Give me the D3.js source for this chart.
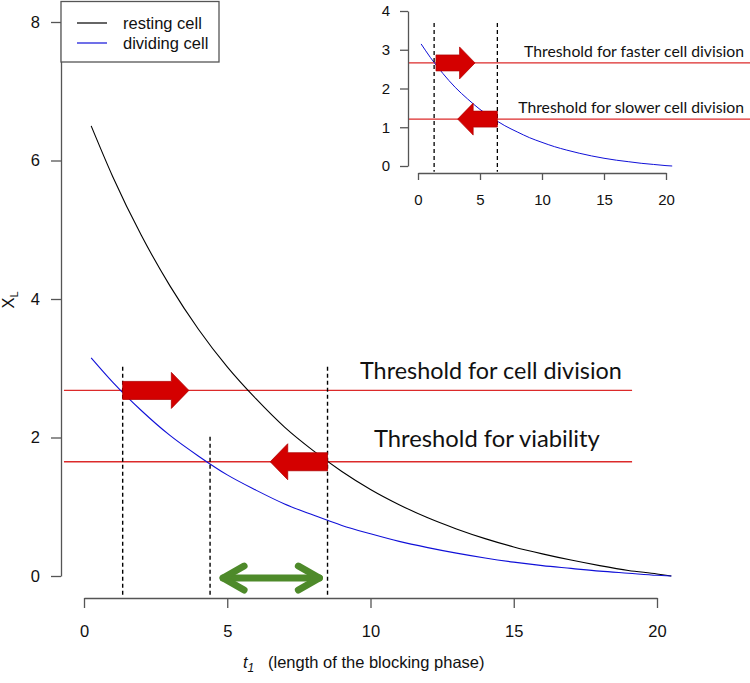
<!DOCTYPE html>
<html><head><meta charset="utf-8">
<script src="https://cdn.jsdelivr.net/npm/d3@7"></script>
<style>body{margin:0;background:#fff} svg{display:block}</style>
</head><body>
<svg id="chart" width="750" height="683"></svg>
<script>
// ---------- data ----------
const tValues      = [0.25, 1, 2, 3, 4, 5, 6, 7, 8, 9, 10, 11, 12, 13, 14, 15, 16, 17, 18, 19, 20, 20.5];
const restingCell  = [6.50, 5.77, 4.92, 4.19, 3.56, 3.02, 2.56, 2.15, 1.81, 1.51, 1.25, 1.03, 0.84, 0.68, 0.54, 0.42, 0.32, 0.23, 0.15, 0.08, 0.03, 0.00];
const dividingCell = [3.15, 2.80, 2.39, 2.03, 1.73, 1.46, 1.24, 1.04, 0.88, 0.73, 0.61, 0.50, 0.41, 0.33, 0.26, 0.20, 0.15, 0.11, 0.07, 0.04, 0.01, 0.00];
const seriesNames  = ["resting cell", "dividing cell"];
const seriesColors = ["#000000", "#1010d8"];

const xTicks      = [0, 5, 10, 15, 20];
const yTicks      = [0, 2, 4, 6, 8];
const insetYTicks = [0, 1, 2, 3, 4];

const mainThresholds      = [2.68, 1.65];
const mainThresholdLabels = ["Threshold for cell division", "Threshold for viability"];
const mainDashedT   = [1.35, 4.4, 8.5];
const mainDashedTop = [3.02, 2.01, 3.02];
// block arrows: [from t, to t, level]
const mainArrows  = [[1.35, 3.66, 2.68], [8.5, 6.5, 1.65]];
const greenArrow  = [4.75, 8.32, -0.03];

const insetThresholds      = [2.66, 1.21];
const insetThresholdLabels = ["Threshold for faster cell division", "Threshold for slower cell division"];
const insetDashedT  = [1.3, 6.4];
const insetArrows   = [[1.45, 4.6, 2.66], [6.4, 3.2, 1.21]];

// ---------- drawing ----------
const svg = d3.select("#chart");
const axisColor = "#555";
const redLine = "#dc2a2a";
const arrowRed = "#d40000";
const sans = "'Liberation Sans', Arial, sans-serif";

const x = d3.scaleLinear().domain([0, 20]).range([84, 657]);
const y = d3.scaleLinear().domain([0, 8]).range([576, 22]);
const xi = d3.scaleLinear().domain([0, 20]).range([418, 666]);
const yi = d3.scaleLinear().domain([0, 4]).range([166, 11]);

const pts = vals => tValues.map((t, i) => [t, vals[i]]);

function styleAxis(g, fs) {
  g.select(".domain").attr("stroke", axisColor).attr("stroke-width", 1.3);
  g.selectAll(".tick line").attr("stroke", axisColor).attr("stroke-width", 1.3);
  g.selectAll(".tick text").attr("fill", "#111").style("font-family", sans).style("font-size", fs + "px");
}

function blockArrow(x0, x1, yc, bh, hh, hl) {
  const dir = x1 > x0 ? 1 : -1;
  const xb = x1 - dir * hl;
  return `M${x0},${yc - bh}L${xb},${yc - bh}L${xb},${yc - hh}L${x1},${yc}L${xb},${yc + hh}L${xb},${yc + bh}L${x0},${yc + bh}Z`;
}

function fitText(sel, target) {
  const node = sel.node();
  const w = node.getComputedTextLength();
  const fs = parseFloat(sel.style("font-size"));
  sel.style("font-size", (fs * target / w) + "px");
}

// main axes
const gy = svg.append("g").attr("transform", "translate(61,0)")
  .call(d3.axisLeft(y).tickValues(yTicks).tickSize(10).tickSizeOuter(0).tickPadding(11).tickFormat(d3.format("d")));
styleAxis(gy, 16.5);
const gx = svg.append("g").attr("transform", "translate(0,598)")
  .call(d3.axisBottom(x).tickValues(xTicks).tickSize(10).tickSizeOuter(0).tickPadding(17).tickFormat(d3.format("d")));
styleAxis(gx, 16.5);

// threshold lines
svg.selectAll(".thr").data(mainThresholds).join("line")
  .attr("x1", x(-0.7)).attr("x2", x(19.13))
  .attr("y1", d => y(d)).attr("y2", d => y(d))
  .attr("stroke", redLine).attr("stroke-width", 1.4);

// curves
const line = d3.line().x(d => x(d[0])).y(d => y(d[1])).curve(d3.curveMonotoneX);
[restingCell, dividingCell].forEach((vals, i) => {
  svg.append("path").datum(pts(vals)).attr("d", line)
    .attr("fill", "none").attr("stroke", seriesColors[i]).attr("stroke-width", 1.1);
});

// dashed lines
svg.selectAll(".dash").data(mainDashedT).join("line")
  .attr("x1", d => x(d)).attr("x2", d => x(d))
  .attr("y1", (d, i) => y(mainDashedTop[i])).attr("y2", y(-0.3))
  .attr("stroke", "#000").attr("stroke-width", 1.4).attr("stroke-dasharray", "4,3");

// red block arrows
mainArrows.forEach(a => {
  svg.append("path").attr("d", blockArrow(x(a[0]), x(a[1]), y(a[2]), 9, 18, 17.5))
    .attr("fill", arrowRed).attr("stroke", "#b00000").attr("stroke-width", 0.8).attr("stroke-linejoin", "miter");
});

// green double arrow
{
  const gx0 = x(greenArrow[0]), gx1 = x(greenArrow[1]), gyc = y(greenArrow[2]);
  const g = svg.append("g").attr("stroke", "#4e8a2a").attr("stroke-width", 7).attr("fill", "none")
    .attr("stroke-linecap", "round").attr("stroke-linejoin", "round");
  g.append("line").attr("x1", gx0 + 3).attr("x2", gx1 - 3).attr("y1", gyc).attr("y2", gyc);
  g.append("path").attr("d", `M${gx0 + 24},${gyc - 12}L${gx0 + 3},${gyc}L${gx0 + 24},${gyc + 12}`);
  g.append("path").attr("d", `M${gx1 - 24},${gyc - 12}L${gx1 - 3},${gyc}L${gx1 - 24},${gyc + 12}`);
}

// threshold labels
const labelFont = "Lato, 'Open Sans', sans-serif";
const t1 = svg.append("text").attr("x", 360).attr("y", 379).text(mainThresholdLabels[0])
  .style("font-family", labelFont).style("font-size", "22px").attr("fill", "#111");
fitText(t1, 262);
const t2 = svg.append("text").attr("x", 374).attr("y", 447).text(mainThresholdLabels[1])
  .style("font-family", labelFont).style("font-size", "22px").attr("fill", "#111");
fitText(t2, 226);

// legend
svg.append("rect").attr("x", 61).attr("y", 1.5).attr("width", 158).attr("height", 60.5)
  .attr("fill", "#fff").attr("stroke", axisColor).attr("stroke-width", 1.3);
seriesNames.forEach((name, i) => {
  const ly = 23 + i * 20;
  svg.append("line").attr("x1", 77).attr("x2", 107).attr("y1", ly).attr("y2", ly)
    .attr("stroke", seriesColors[i]).attr("stroke-width", 1.2);
  svg.append("text").attr("x", 123).attr("y", ly + 5.5).text(name)
    .style("font-family", sans).style("font-size", "16.5px").attr("fill", "#111");
});

// axis titles
const ylab = svg.append("text").attr("transform", "translate(14,300) rotate(-90)")
  .attr("text-anchor", "middle")
  .style("font-family", sans).style("font-size", "16.5px").attr("fill", "#111");
ylab.append("tspan").text("X");
ylab.append("tspan").text("L").style("font-size", "11px").attr("dy", 4);

const xlab = svg.append("text").attr("x", 243).attr("y", 668)
  .style("font-family", sans).style("font-size", "16.5px").attr("fill", "#111");
xlab.append("tspan").text("t").style("font-style", "italic");
xlab.append("tspan").text("1").style("font-style", "italic").style("font-size", "12px").attr("dy", 4);
xlab.append("tspan").text("(length of the blocking phase)").attr("x", 268).attr("dy", -4);

// ---------- inset ----------
const giy = svg.append("g").attr("transform", "translate(408,0)")
  .call(d3.axisLeft(yi).tickValues(insetYTicks).tickSize(8).tickSizeOuter(0).tickPadding(10).tickFormat(d3.format("d")));
styleAxis(giy, 15);
const gix = svg.append("g").attr("transform", "translate(0,173)")
  .call(d3.axisBottom(xi).tickValues(xTicks).tickSize(7).tickSizeOuter(0).tickPadding(14).tickFormat(d3.format("d")));
styleAxis(gix, 15);

svg.selectAll(".ithr").data(insetThresholds).join("line")
  .attr("x1", xi(-0.73)).attr("x2", 750)
  .attr("y1", d => yi(d)).attr("y2", d => yi(d))
  .attr("stroke", redLine).attr("stroke-width", 1.3);

const iline = d3.line().x(d => xi(d[0])).y(d => yi(d[1])).curve(d3.curveMonotoneX);
svg.append("path").datum(pts(dividingCell)).attr("d", iline)
  .attr("fill", "none").attr("stroke", seriesColors[1]).attr("stroke-width", 1);

svg.selectAll(".idash").data(insetDashedT).join("line")
  .attr("x1", d => xi(d)).attr("x2", d => xi(d))
  .attr("y1", yi(3.69)).attr("y2", yi(-0.15))
  .attr("stroke", "#000").attr("stroke-width", 1.3).attr("stroke-dasharray", "4,3");

insetArrows.forEach(a => {
  svg.append("path").attr("d", blockArrow(xi(a[0]), xi(a[1]), yi(a[2]), 8, 16, 15.5))
    .attr("fill", arrowRed).attr("stroke", "#b00000").attr("stroke-width", 0.7);
});

insetThresholdLabels.forEach((lab, i) => {
  const t = svg.append("text").attr("x", 744).attr("y", [57, 113][i]).attr("text-anchor", "end").text(lab)
    .style("font-family", labelFont).style("font-size", "15px").attr("fill", "#111");
  fitText(t, [220, 226][i]);
});
</script>
</body></html>
